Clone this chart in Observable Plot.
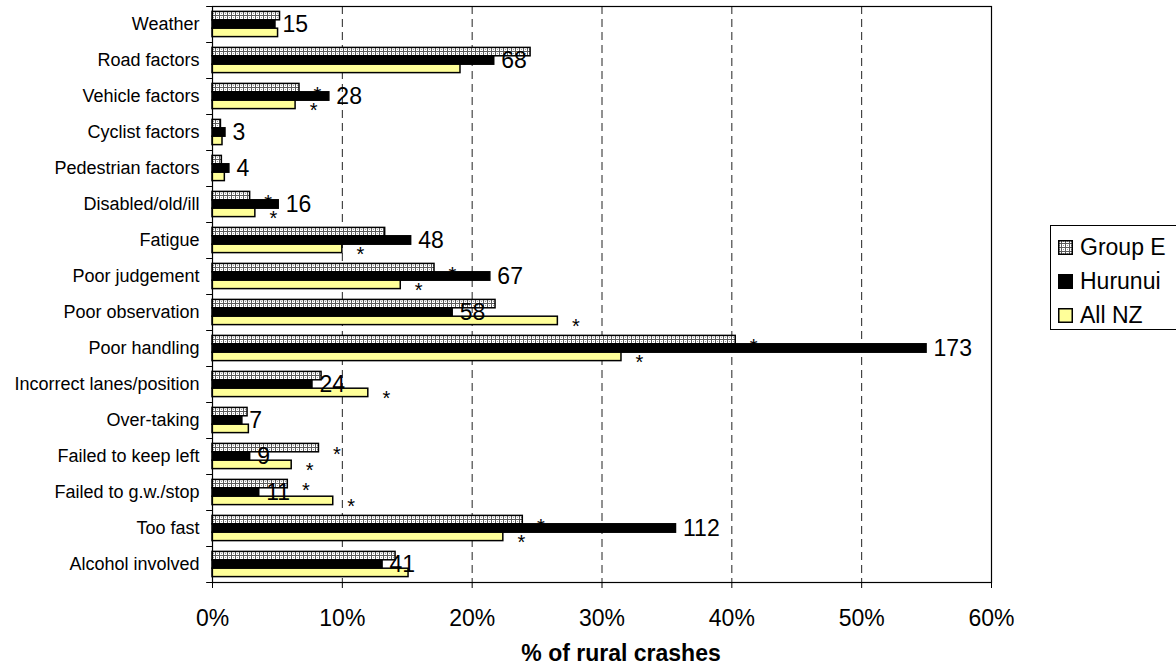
<!DOCTYPE html>
<html>
<head>
<meta charset="utf-8">
<script src="https://cdn.jsdelivr.net/npm/d3@7"></script>
<script src="https://cdn.jsdelivr.net/npm/@observablehq/plot@0.6"></script>
<style>
  html, body { margin: 0; padding: 0; background: #fff; overflow: hidden; }
  #wrap { position: relative; width: 1176px; height: 672px; font-family: "Liberation Sans", Arial, sans-serif; }
  #legend { position: absolute; left: 1050px; top: 225px; width: 160px; height: 105px; border: 1px solid #000; box-sizing: border-box; background: #fff; }
  .lrow { position: absolute; left: 7px; height: 24px; display: flex; align-items: center; font-size: 23px; color: #000; white-space: nowrap; }
  .lrow svg { margin-right: 7px; }
</style>
</head>
<body>
<div id="wrap">
  <div id="chart"></div>
  <div id="legend"></div>
</div>
<script>
const categories = ["Weather", "Road factors", "Vehicle factors", "Cyclist factors", "Pedestrian factors",
  "Disabled/old/ill", "Fatigue", "Poor judgement", "Poor observation", "Poor handling",
  "Incorrect lanes/position", "Over-taking", "Failed to keep left", "Failed to g.w./stop",
  "Too fast", "Alcohol involved"];
const groupE  = [5.2, 24.5, 6.7, 0.65, 0.72, 2.9, 13.3, 17.1, 21.8, 40.3, 8.4, 2.7, 8.2, 5.8, 23.9, 14.1];
const hurunui = [4.85, 21.7, 9.0, 1.0, 1.3, 5.1, 15.3, 21.4, 18.5, 55.0, 7.7, 2.3, 2.9, 3.6, 35.7, 13.1];
const allNZ   = [5.05, 19.1, 6.4, 0.77, 0.95, 3.3, 10.0, 14.5, 26.6, 31.5, 12.0, 2.8, 6.1, 9.3, 22.4, 15.1];
const counts  = [15, 68, 28, 3, 4, 16, 48, 67, 58, 173, 24, 7, 9, 11, 112, 41];
const starGroupE = [0, 0, 1, 0, 0, 1, 0, 1, 0, 1, 0, 0, 1, 1, 1, 0];
const starAllNZ  = [0, 0, 1, 0, 0, 1, 1, 1, 1, 1, 1, 0, 1, 1, 1, 0];
const seriesNames = ["Group E", "Hurunui", "All NZ"];
const xTicks = [0, 10, 20, 30, 40, 50, 60];
const gridTicks = [10, 20, 30, 40, 50];
const xTitle = "% of rural crashes";

const rows = categories.map((c, i) => ({
  category: c, groupE: groupE[i], hurunui: hurunui[i], allNZ: allNZ[i],
  count: counts[i], starGE: starGroupE[i], starNZ: starAllNZ[i]
}));

const font = "'Liberation Sans', Arial, sans-serif";
const step = 36;     // band step in px (for insets)
const barH = 8.4;
const top0 = 5.4;

const plot = Plot.plot({
  width: 1176,
  height: 672,
  marginLeft: 212,
  marginRight: 185,
  marginTop: 6,
  marginBottom: 90,
  style: { fontFamily: font, fontSize: "18px", color: "#000", background: "#fff" },
  x: { domain: [0, 60], nice: false },
  y: { domain: categories, padding: 0 },
  marks: [
    Plot.ruleX(gridTicks, { stroke: "#222", strokeWidth: 1, strokeDasharray: "8,5" }),
    Plot.barX(rows, { x: "groupE", y: "category", fill: "url(#geHatch)", stroke: "#000", strokeWidth: 1.5,
      insetTop: top0, insetBottom: step - top0 - barH }),
    Plot.barX(rows, { x: "hurunui", y: "category", fill: "#000", stroke: "#000", strokeWidth: 1.5,
      insetTop: top0 + barH, insetBottom: step - top0 - 2 * barH }),
    Plot.barX(rows, { x: "allNZ", y: "category", fill: "#FFFF99", stroke: "#000", strokeWidth: 1.5,
      insetTop: top0 + 2 * barH, insetBottom: step - top0 - 3 * barH }),
    Plot.frame({ stroke: "#000", strokeWidth: 1.2 }),
    Plot.ruleY(categories, { y: d => d, x1: -0.45, x2: 0, dy: -step / 2, stroke: "#000", clip: false }),
    Plot.ruleY(categories.slice(-1), { y: d => d, x1: -0.45, x2: 0, dy: step / 2, stroke: "#000", clip: false }),
    Plot.axisY({ tickSize: 0, tickPadding: 13, fontSize: 18, label: null }),
    Plot.axisX({ ticks: xTicks, tickFormat: d => d + "%", tickSize: 6, tickPadding: 21, fontSize: 23, label: null }),
    Plot.text([xTitle], { frameAnchor: "bottom", text: d => d, dx: 19, dy: 78, fontSize: 23, fontWeight: "bold" }),
    Plot.text(rows, { x: "hurunui", y: "category", text: "count", dx: 7, textAnchor: "start", fontSize: 23, fill: "#000" }),
    Plot.text(rows.filter(d => d.starGE), { x: "groupE", y: "category", text: () => "*", dx: 18, dy: -barH + 6, fontSize: 20, fill: "#000" }),
    Plot.text(rows.filter(d => d.starNZ), { x: "allNZ", y: "category", text: () => "*", dx: 18, dy: barH + 6, fontSize: 20, fill: "#000" })
  ]
});

// pattern definition for Group E bars
const ns = "http://www.w3.org/2000/svg";
function addPattern(svg, id) {
  const defs = document.createElementNS(ns, "defs");
  defs.innerHTML = `<pattern id="${id}" patternUnits="userSpaceOnUse" width="4" height="4">
      <rect width="4" height="4" fill="#5a5a5a"/>
      <rect x="0" y="0" width="3" height="3" fill="#ffffff"/>
      <rect x="1" y="1" width="1" height="1" fill="#9a9a9a"/>
    </pattern>`;
  svg.insertBefore(defs, svg.firstChild);
}
addPattern(plot, "geHatch");
document.getElementById("chart").appendChild(plot);

// legend
const legend = document.getElementById("legend");
const swatches = [
  { fill: "url(#geLeg)", stroke: "#000" },
  { fill: "#000", stroke: "#000" },
  { fill: "#FFFF99", stroke: "#000" }
];
const rowTops = [9, 43, 77];
seriesNames.forEach((name, i) => {
  const r = document.createElement("div");
  r.className = "lrow";
  r.style.top = rowTops[i] + "px";
  const sw = document.createElementNS(ns, "svg");
  sw.setAttribute("width", 15); sw.setAttribute("height", 15);
  if (i === 0) addPattern(sw, "geLeg");
  const rect = document.createElementNS(ns, "rect");
  rect.setAttribute("x", 0.75); rect.setAttribute("y", 0.75);
  rect.setAttribute("width", 13.5); rect.setAttribute("height", 13.5);
  rect.setAttribute("fill", swatches[i].fill);
  rect.setAttribute("stroke", swatches[i].stroke);
  rect.setAttribute("stroke-width", 1.5);
  sw.appendChild(rect);
  r.appendChild(sw);
  const t = document.createElement("span");
  t.textContent = name;
  r.appendChild(t);
  legend.appendChild(r);
});
</script>
</body>
</html>
